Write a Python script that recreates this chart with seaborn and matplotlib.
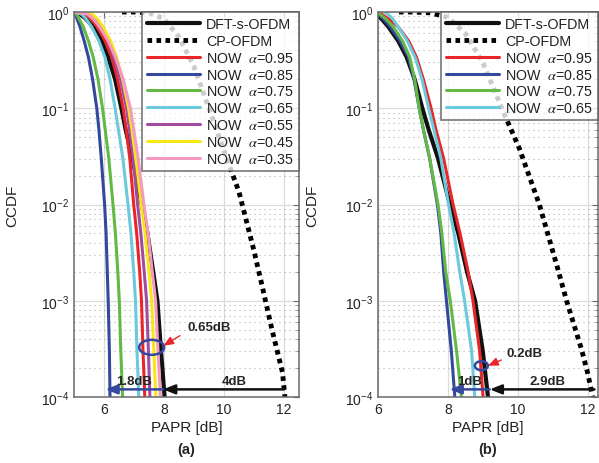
import numpy as np
import pandas as pd
import matplotlib
matplotlib.use("Agg")
import matplotlib.pyplot as plt
import seaborn as sns
from matplotlib.patches import Ellipse
from matplotlib.transforms import ScaledTranslation
from matplotlib.ticker import LogLocator, NullFormatter

sns.set_style("white")
plt.rcParams['font.family'] = ['Liberation Sans', 'DejaVu Sans']
plt.rcParams['mathtext.fontset'] = 'stix'

# CCDF levels at which the PAPR of each curve was read
levels = [1.0, 0.95, 0.85, 0.7, 0.5, 0.34, 0.2, 0.1, 0.06, 0.03, 0.01,
          0.005, 0.002, 0.001, 0.0003, 0.0001]

# ---------------- data: panel (a) ----------------
dfts_a = [5.0, 5.2, 5.4, 5.64, 5.92, 6.14, 6.37, 6.58, 6.72, 6.95, 7.26, 7.45, 7.64, 7.78, 7.9, 8.02]
now095_a = [5.0, 5.38, 5.56, 5.78, 6.04, 6.26, 6.45, 6.64, 6.74, 6.86, 6.99, 7.09, 7.19, 7.25, 7.3, 7.36]
now085_a = [5.0, 5.04, 5.1, 5.2, 5.34, 5.48, 5.62, 5.76, 5.83, 5.91, 6.02, 6.07, 6.11, 6.14, 6.18, 6.2]
now075_a = [5.0, 5.08, 5.17, 5.31, 5.48, 5.64, 5.8, 5.95, 6.04, 6.16, 6.3, 6.38, 6.46, 6.51, 6.56, 6.62]
now065_a = [5.0, 5.25, 5.4, 5.59, 5.83, 6.03, 6.2, 6.37, 6.48, 6.63, 6.8, 6.9, 6.99, 7.05, 7.1, 7.16]
now055_a = [5.0, 5.55, 5.72, 5.92, 6.15, 6.33, 6.55, 6.75, 6.85, 6.97, 7.12, 7.23, 7.34, 7.42, 7.48, 7.53]
now045_a = [5.0, 5.6, 5.78, 5.97, 6.22, 6.42, 6.62, 6.82, 6.93, 7.06, 7.24, 7.37, 7.5, 7.59, 7.66, 7.73]
now035_a = [5.0, 5.45, 5.64, 5.85, 6.14, 6.38, 6.64, 6.88, 6.99, 7.14, 7.33, 7.47, 7.61, 7.72, 7.8, 7.88]
cp_x_a = [6.6, 7.0, 7.5, 8.0, 8.5, 9.0, 9.5, 10.0, 10.5, 11.0, 11.3, 11.6, 11.95, 12.03]
cp_p_a = [1.0, 1.0, 0.98, 0.85, 0.55, 0.27, 0.1, 0.036, 0.0135, 0.0033, 0.0013, 0.0005, 0.00018, 0.0001]

# ---------------- data: panel (b) ----------------
dfts_b = [5.8, 5.95, 6.1, 6.3, 6.58, 6.82, 7.05, 7.27, 7.45, 7.72, 8.06, 8.3, 8.55, 8.78, 9.0, 9.15]
now095_b = [5.95, 6.1, 6.3, 6.58, 6.88, 7.1, 7.3, 7.52, 7.66, 7.88, 8.15, 8.35, 8.58, 8.72, 8.91, 9.01]
now085_b = [5.85, 6.0, 6.15, 6.35, 6.63, 6.87, 7.03, 7.18, 7.3, 7.48, 7.7, 7.8, 7.88, 7.96, 8.1, 8.2]
now075_b = [5.9, 6.05, 6.22, 6.44, 6.7, 6.91, 7.05, 7.18, 7.3, 7.48, 7.72, 7.83, 7.94, 8.07, 8.25, 8.39]
now065_b = [6.2, 6.28, 6.42, 6.58, 6.84, 7.06, 7.26, 7.45, 7.6, 7.8, 8.02, 8.18, 8.34, 8.48, 8.68, 8.77]
cp_x_b = [6.6, 7.0, 7.5, 8.0, 8.5, 9.0, 9.6, 10.05, 10.62, 11.14, 11.4, 11.82, 12.0, 12.15]
cp_p_b = [1.0, 1.0, 0.98, 0.88, 0.6, 0.3, 0.09, 0.038, 0.01, 0.0022, 0.001, 0.00032, 0.00018, 0.0001]

x_ticks = [6, 8, 10, 12]

c_black = '#111111'
c_red = '#e8262a'
c_blue = '#34489e'
c_green = '#63b946'
c_cyan = '#6dc9dc'
c_mag = '#a24c9f'
c_yel = '#f7e718'
c_pink = '#f49ac1'

fig = plt.figure(figsize=(5.99, 4.64), dpi=100)
W, H = 599, 464
axA = fig.add_axes([74 / W, 1 - 398 / H, (299 - 74) / W, (398 - 13) / H])
axB = fig.add_axes([378 / W, 1 - 398 / H, (598 - 378) / W, (398 - 13) / H])


def draw(ax, curves, cp_x, cp_p):
    sns.lineplot(x=curves[0][1], y=levels, ax=ax, color=c_black, lw=3.0,
                 estimator=None, sort=False, label=curves[0][0])
    sns.lineplot(x=cp_x, y=cp_p, ax=ax, color='#000000', lw=3.5,
                 estimator=None, sort=False, label='CP-OFDM')
    ax.lines[-1].set_linestyle((0, (0.95, 0.9)))
    ax.lines[-1].set_dash_capstyle('butt')
    for name, xs, col in curves[1:]:
        sns.lineplot(x=xs, y=levels, ax=ax, color=col, lw=2.2,
                     estimator=None, sort=False, label=name)


def style(ax, xlim):
    ax.set_yscale('log')
    ax.set_ylim(1e-4, 1)
    ax.set_xlim(*xlim)
    ax.set_xticks(x_ticks)
    ax.yaxis.set_major_locator(LogLocator(base=10, numticks=10))
    ax.yaxis.set_minor_locator(LogLocator(base=10, subs=np.arange(2, 10), numticks=20))
    ax.yaxis.set_minor_formatter(NullFormatter())
    ax.grid(True, which='major', axis='both', color='#dcdcdc', lw=0.9, ls='-')
    ax.grid(True, which='minor', axis='y', color='#b0b0b0', lw=0.8, ls=(0, (1, 3.5)))
    ax.set_axisbelow(True)
    for s in ax.spines.values():
        s.set_color('#6a6a6a')
        s.set_linewidth(1.1)
    ax.tick_params(which='both', direction='in', top=True, right=True,
                   color='#6a6a6a', labelsize=10, labelcolor='#222222')
    ax.tick_params(which='major', length=4)
    ax.tick_params(which='minor', length=2.2)
    ax.set_xlabel('PAPR [dB]', fontsize=11, color='#222222', labelpad=3)
    ax.set_ylabel('CCDF', fontsize=11, color='#222222')
    leg = ax.legend(loc='upper right', borderaxespad=0, fontsize=10.3,
                    frameon=True, fancybox=False, handlelength=3.7,
                    handletextpad=0.45, labelspacing=0.2, borderpad=0.35)
    leg.get_frame().set_edgecolor('#555555')
    leg.get_frame().set_linewidth(1.2)
    for t in leg.get_texts():
        t.set_color('#222222')


def ell(ax, cx, cy, w_px, h_px):
    tr = fig.dpi_scale_trans + ScaledTranslation(cx, cy, ax.transData)
    ax.add_patch(Ellipse((0, 0), w_px / 100, h_px / 100, transform=tr,
                         fill=False, ec=c_blue, lw=1.8, zorder=6))


def arrow(ax, x0, x1, y, col, lw):
    ax.annotate('', xy=(x1, y), xytext=(x0, y),
                arrowprops=dict(arrowstyle='-|>,head_length=0.7,head_width=0.28',
                                color=col, lw=lw, shrinkA=0, shrinkB=0), zorder=7)


# ---------- panel (a) ----------
curves_a = [('DFT-s-OFDM', dfts_a, c_black),
            (r'NOW  $\alpha$=0.95', now095_a, c_red),
            (r'NOW  $\alpha$=0.85', now085_a, c_blue),
            (r'NOW  $\alpha$=0.75', now075_a, c_green),
            (r'NOW  $\alpha$=0.65', now065_a, c_cyan),
            (r'NOW  $\alpha$=0.55', now055_a, c_mag),
            (r'NOW  $\alpha$=0.45', now045_a, c_yel),
            (r'NOW  $\alpha$=0.35', now035_a, c_pink)]
draw(axA, curves_a, cp_x_a, cp_p_a)
style(axA, (5, 12.5))
axA.yaxis.set_label_coords(-0.245, 0.5)
ell(axA, 7.59, 10 ** -3.484, 25, 15)
arrow(axA, 12.0, 7.97, 1.2e-4, c_black, 1.8)
arrow(axA, 7.97, 6.05, 1.2e-4, c_blue, 1.8)
axA.annotate('', xy=(7.98, 10 ** -3.467), xytext=(8.53, 10 ** -3.363),
             arrowprops=dict(arrowstyle='-|>,head_length=0.6,head_width=0.25',
                             color=c_red, lw=1.0, shrinkA=0, shrinkB=0), zorder=7)
axA.text(10.33, 1.45e-4, '4dB', fontsize=9.5, fontweight='bold', ha='center', va='center', zorder=8)
axA.text(7.0, 1.45e-4, '1.8dB', fontsize=9.5, fontweight='bold', ha='center', va='center', zorder=8)
axA.text(8.77, 10 ** -3.27, '0.65dB', fontsize=9.5, fontweight='bold', ha='left', va='center', zorder=8)

# ---------- panel (b) ----------
curves_b = [('DFT-s-OFDM', dfts_b, c_black),
            (r'NOW  $\alpha$=0.95', now095_b, c_red),
            (r'NOW  $\alpha$=0.85', now085_b, c_blue),
            (r'NOW  $\alpha$=0.75', now075_b, c_green),
            (r'NOW  $\alpha$=0.65', now065_b, c_cyan)]
draw(axB, curves_b, cp_x_b, cp_p_b)
style(axB, (6, 12.3))
axB.yaxis.set_label_coords(-0.268, 0.5)
ell(axB, 8.96, 10 ** -3.675, 13, 9)
arrow(axB, 12.2, 9.2, 1.2e-4, c_black, 1.8)
arrow(axB, 9.2, 8.05, 1.2e-4, c_blue, 1.8)
axB.annotate('', xy=(9.15, 10 ** -3.675), xytext=(9.53, 10 ** -3.616),
             arrowprops=dict(arrowstyle='-|>,head_length=0.6,head_width=0.25',
                             color=c_red, lw=1.0, shrinkA=0, shrinkB=0), zorder=7)
axB.text(10.84, 1.45e-4, '2.9dB', fontsize=9.5, fontweight='bold', ha='center', va='center', zorder=8)
axB.text(8.63, 1.45e-4, '1dB', fontsize=9.5, fontweight='bold', ha='center', va='center', zorder=8)
axB.text(9.69, 10 ** -3.54, '0.2dB', fontsize=9.5, fontweight='bold', ha='left', va='center', zorder=8)

fig.text(186 / W, 1 - 450 / H, '(a)', fontsize=10.5, fontweight='bold', ha='center', va='center')
fig.text(488 / W, 1 - 450 / H, '(b)', fontsize=10.5, fontweight='bold', ha='center', va='center')

fig.savefig('out.png', dpi=100, facecolor='white')
